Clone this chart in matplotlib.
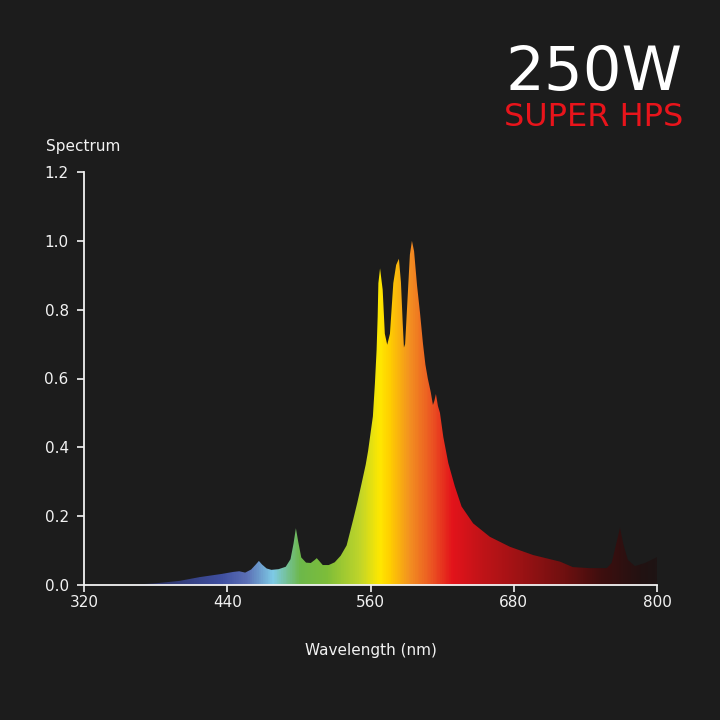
import numpy as np
import matplotlib
matplotlib.use("Agg")
import matplotlib.pyplot as plt
from matplotlib.colors import LinearSegmentedColormap
from matplotlib.patches import Polygon

# spectrum (wavelength nm, relative value)
wavelength = [358, 380, 400, 417, 435, 445, 450, 455, 460, 464, 466.5, 469, 473, 477,
              483, 489, 493, 495.5, 497.5, 499.5, 502, 506, 510, 513, 515, 517, 520,
              525, 530, 535, 540, 545.5, 549, 552.6, 556, 558, 560, 562, 563.7, 565.1,
              566, 566.6, 568, 570.2, 572, 574, 576.3, 579.1, 581.5, 583.8, 585.5, 587,
              588, 589, 591, 593, 594.7, 596.5, 599, 601.5, 604, 606, 608, 610.5, 612.3,
              613.5, 614.8, 616.5, 618.2, 621, 625.2, 630.7, 636.3, 646, 660, 676.8,
              696.3, 718.7, 729.5, 743.8, 758, 762, 765.6, 769, 772, 775.6, 781.5, 790, 800]
spectrum = [0.0, 0.005, 0.012, 0.023, 0.032, 0.038, 0.040, 0.036, 0.045, 0.060, 0.070,
            0.060, 0.048, 0.044, 0.046, 0.053, 0.075, 0.120, 0.165, 0.125, 0.080, 0.065,
            0.064, 0.072, 0.078, 0.070, 0.058, 0.058, 0.066, 0.085, 0.115, 0.190, 0.240,
            0.296, 0.350, 0.390, 0.440, 0.490, 0.586, 0.683, 0.780, 0.877, 0.920, 0.858,
            0.730, 0.698, 0.730, 0.877, 0.930, 0.948, 0.880, 0.760, 0.690, 0.700, 0.830,
            0.960, 1.000, 0.970, 0.870, 0.790, 0.700, 0.640, 0.600, 0.560, 0.523, 0.535,
            0.555, 0.520, 0.500, 0.430, 0.354, 0.286, 0.228, 0.179, 0.140, 0.111, 0.087,
            0.068, 0.052, 0.049, 0.049, 0.064, 0.116, 0.166, 0.116, 0.073, 0.055, 0.064,
            0.081]

# colour of the fill along the wavelength axis
color_nm = [320, 367, 434, 456, 478, 501, 523, 551, 568, 576, 593, 610, 629, 654, 688,
            724, 754, 788, 800]
color_hex = ["#1c1c2e", "#2a2e5a", "#3f4fa0", "#5b6fb5", "#7ecbe6", "#6db84a", "#7dbd3a",
             "#c0d52a", "#ffe800", "#ffd000", "#f39021", "#ec5a23", "#e3131b", "#c01418",
             "#9a1214", "#6e1010", "#3e0e0e", "#221212", "#1e1414"]

bg = "#1c1c1c"
fg = "#f2f2f2"

fig = plt.figure(figsize=(7.2, 7.2), dpi=100, facecolor=bg)
ax = fig.add_axes([84 / 720, 135 / 720, 573 / 720, 413 / 720])
ax.set_facecolor(bg)

stops = [(n - 320) / 480 for n in color_nm]
cmap = LinearSegmentedColormap.from_list("spec", list(zip(stops, color_hex)))
grad = np.linspace(0, 1, 960).reshape(1, -1)
img = ax.imshow(grad, cmap=cmap, extent=[320, 800, 0, 1.2], aspect="auto",
                interpolation="bilinear", zorder=1)

verts = list(zip(wavelength, spectrum)) + [(800, 0), (358, 0)]
poly = Polygon(verts, closed=True, facecolor="none", edgecolor="none")
ax.add_patch(poly)
img.set_clip_path(poly)

ax.set_xlim(320, 800)
ax.set_ylim(0, 1.2)
ax.set_xticks([320, 440, 560, 680, 800])
ax.set_yticks([0.0, 0.2, 0.4, 0.6, 0.8, 1.0, 1.2])
ax.set_yticklabels(["0.0", "0.2", "0.4", "0.6", "0.8", "1.0", "1.2"])

for s in ["top", "right"]:
    ax.spines[s].set_visible(False)
for s in ["left", "bottom"]:
    ax.spines[s].set_color(fg)
    ax.spines[s].set_linewidth(1.3)
    ax.spines[s].set_zorder(3)

ax.tick_params(colors=fg, labelcolor=fg, labelsize=11, width=1.2, length=5, direction="out")
ax.tick_params(axis="y", pad=6)
ax.tick_params(axis="x", pad=2)

fig.text(46 / 720, 1 - 147 / 720, "Spectrum", color=fg, fontsize=11, ha="left", va="center")
fig.text(371 / 720, 1 - 651 / 720, "Wavelength (nm)", color=fg, fontsize=11,
         ha="center", va="center")

# title block, top right
fig.text(683 / 720, 1 - 90 / 720, "250W", color="#ffffff", fontsize=44,
         ha="right", va="baseline")
fig.text(683 / 720, 1 - 126 / 720, "SUPER HPS", color="#e8141b", fontsize=23,
         ha="right", va="baseline")

fig.savefig("out.png", dpi=100, facecolor=bg)
